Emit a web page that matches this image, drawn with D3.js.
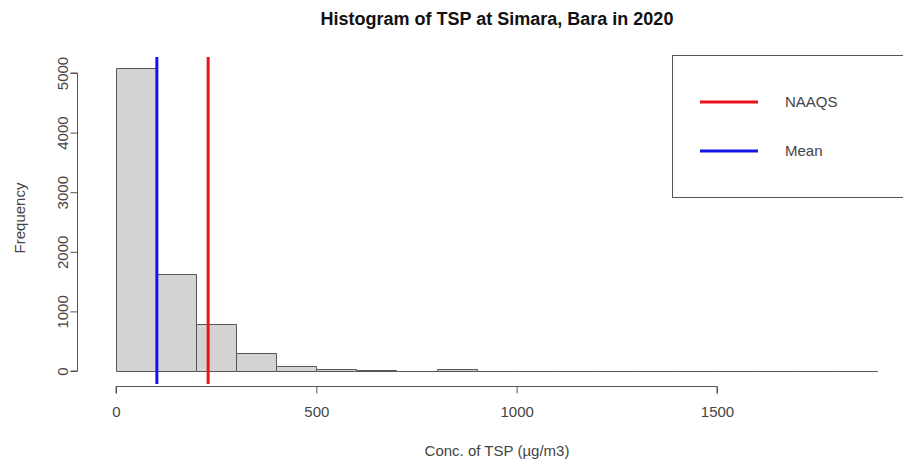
<!DOCTYPE html>
<html>
<head>
<meta charset="utf-8">
<script src="https://cdn.jsdelivr.net/npm/d3@7"></script>
<style>
  body { margin: 0; background: #fff; }
  svg { display: block; font-family: "Liberation Sans", Arial, sans-serif; }
</style>
</head>
<body>
<svg id="chart" width="903" height="461"></svg>
<script>
// Data
const binStarts = [0,100,200,300,400,500,600,700,800,900,1000,1100,1200,1300,1400,1500,1600,1700,1800];
const binWidth = 100;
const counts = [5090,1630,790,300,80,40,10,8,30,2,1,0,0,1,0,0,0,0,1];
const xTicks = [0,500,1000,1500];
const yTicks = [0,1000,2000,3000,4000,5000];
const refLines = [
  {name: "NAAQS", value: 230, color: "#e8141c"},
  {name: "Mean", value: 102, color: "#1414e6"}
];
const legendItems = ["NAAQS", "Mean"];

const svg = d3.select("#chart");
const FONT = "Liberation Sans, Arial, sans-serif";

const x = d3.scaleLinear().domain([0, 1500]).range([116, 717]);
const y = d3.scaleLinear().domain([0, 5000]).range([371, 73]);

// bars (paths so that empty bins still draw along the baseline)
svg.append("g").selectAll("path")
  .data(binStarts.map((s, i) => ({s, c: counts[i]})))
  .join("path")
  .attr("d", d => {
    const x0 = Math.round(x(d.s)) + 0.5, x1 = Math.round(x(d.s + binWidth)) + 0.5;
    const y0 = Math.round(y(0)) + 0.5, y1 = Math.round(y(d.c)) + 0.5;
    return `M${x0},${y0}V${y1}H${x1}V${y0}Z`;
  })
  .attr("fill", "#d3d3d3")
  .attr("stroke", "#555")
  .attr("stroke-width", 1);

// vertical reference lines spanning the plot region
const yTop = y(5268), yBot = y(-218);
svg.append("g").selectAll("line")
  .data(refLines)
  .join("line")
  .attr("x1", d => x(d.value)).attr("x2", d => x(d.value))
  .attr("y1", yTop).attr("y2", yBot)
  .attr("stroke", d => d.color)
  .attr("stroke-width", 3);

// x axis
const xAxis = svg.append("g")
  .attr("transform", "translate(0,386.5)")
  .call(d3.axisBottom(x).tickValues(xTicks).tickSize(7).tickFormat(d3.format("d")));
xAxis.select(".domain").attr("stroke", "#555").attr("d", `M${x(0)},7V0H${x(1500)}V7`);
xAxis.selectAll(".tick line").attr("stroke", "#555");
xAxis.selectAll(".tick text")
  .attr("font-size", 15).attr("fill", "#444").attr("font-family", FONT)
  .attr("y", 30).attr("dy", null);

// y axis
const yAxis = svg.append("g")
  .attr("transform", "translate(77.5,0)")
  .call(d3.axisLeft(y).tickValues(yTicks).tickSize(7).tickFormat(d3.format("d")));
yAxis.select(".domain").attr("stroke", "#555").attr("d", `M-7,${y(0)}H0V${y(5000)}H-7`);
yAxis.selectAll(".tick line").attr("stroke", "#555");
yAxis.selectAll(".tick text")
  .attr("font-size", 15).attr("fill", "#444")
  .attr("font-family", FONT)
  .attr("x", null).attr("dy", null)
  .attr("text-anchor", "middle")
  .attr("transform", "translate(-10,0) rotate(-90)");

// title
svg.append("text")
  .attr("x", 497).attr("y", 25)
  .attr("text-anchor", "middle")
  .attr("font-size", 18).attr("font-weight", "bold").attr("fill", "#111")
  .text("Histogram of TSP at Simara, Bara in 2020");

// axis labels
svg.append("text")
  .attr("x", 497).attr("y", 456)
  .attr("text-anchor", "middle")
  .attr("font-size", 15).attr("fill", "#444")
  .text("Conc. of TSP (µg/m3)");
svg.append("text")
  .attr("transform", "translate(25,218) rotate(-90)")
  .attr("text-anchor", "middle")
  .attr("font-size", 15).attr("fill", "#444")
  .text("Frequency");

// legend
svg.append("rect")
  .attr("x", 672.5).attr("y", 55.5)
  .attr("width", 240).attr("height", 142)
  .attr("fill", "none").attr("stroke", "#555").attr("stroke-width", 1);
const lg = svg.append("g").selectAll("g")
  .data(legendItems.map(n => refLines.find(r => r.name === n)))
  .join("g")
  .attr("transform", (d, i) => `translate(0,${102 + i * 49})`);
lg.append("line")
  .attr("x1", 700).attr("x2", 758)
  .attr("stroke", d => d.color).attr("stroke-width", 3);
lg.append("text")
  .attr("x", 785).attr("y", 5)
  .attr("font-size", 15).attr("fill", "#444")
  .text(d => d.name);
</script>
</body>
</html>
